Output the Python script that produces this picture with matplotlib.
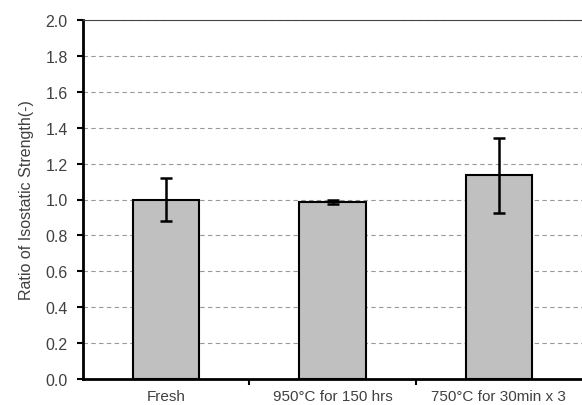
import numpy as np
import matplotlib
matplotlib.use('Agg')
import matplotlib.pyplot as plt
from matplotlib.ticker import FixedLocator

plt.rcParams['font.family'] = ['Liberation Sans', 'DejaVu Sans']

categories = ['Fresh', '950°C for 150 hrs', '750°C for 30min x 3']
ratio = [1.00, 0.985, 1.135]
ratio_err = [0.12, 0.01, 0.21]
yticks = [0.0, 0.2, 0.4, 0.6, 0.8, 1.0, 1.2, 1.4, 1.6, 1.8, 2.0]

fig = plt.figure(figsize=(5.82, 4.06), dpi=100)
ax = fig.add_axes([83 / 582, 1 - 380 / 406, 1 - 83 / 582, (380 - 21) / 406])

x = np.arange(len(categories))
ax.bar(x, ratio, width=0.4, color='#c0c0c0', edgecolor='black', linewidth=1.5,
       yerr=ratio_err, capsize=4.5, error_kw=dict(elinewidth=1.8, capthick=1.8, ecolor='black'),
       zorder=3)

ax.set_xlim(-0.5, len(categories) - 0.5)
ax.set_ylim(0, 2.0)
ax.set_yticks(yticks)
ax.set_yticklabels(['%.1f' % v for v in yticks], fontsize=11.5, color='#404040')
ax.yaxis.grid(True, linestyle=(0, (4, 3)), color='#999999', linewidth=0.8, zorder=0)

ax.set_xticks(x)
ax.set_xticklabels(categories, fontsize=11, color='#404040')
ax.tick_params(axis='x', which='major', length=0, pad=7)
ax.xaxis.set_minor_locator(FixedLocator([0.5, 1.5]))
ax.tick_params(axis='x', which='minor', length=4, width=1.5, direction='out')
ax.tick_params(axis='y', length=4, width=1.5, direction='out', pad=7)

ax.set_ylabel('Ratio of Isostatic Strength(-)', fontsize=11.5, color='#404040', labelpad=8)

for s in ['left', 'bottom']:
    ax.spines[s].set_linewidth(2)
    ax.spines[s].set_color('black')
ax.spines['top'].set_linewidth(0.8)
ax.spines['top'].set_color('#444444')
ax.spines['right'].set_visible(False)

fig.savefig('out.png', dpi=100)
